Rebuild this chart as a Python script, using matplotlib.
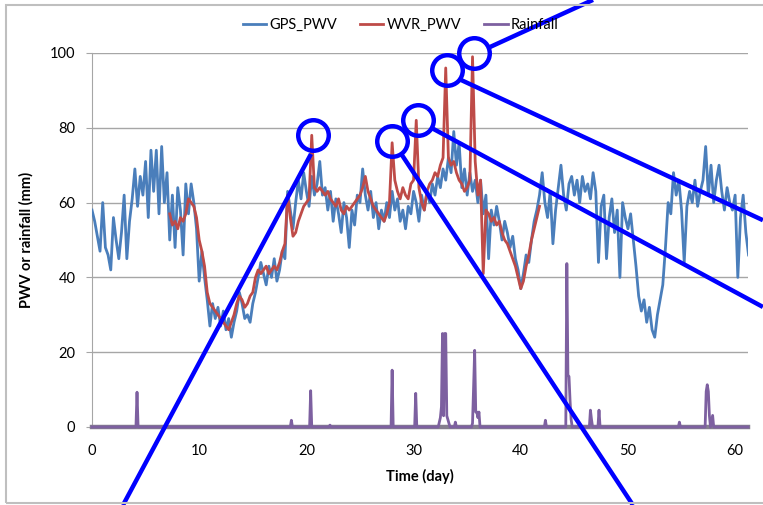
import numpy as np
import matplotlib.pyplot as plt

plt.rcParams['font.family'] = ['Lato', 'DejaVu Sans']

# GPS PWV (mm), sampled every 0.25 day starting at day 0
gps_pwv = [58, 55, 51, 47, 60, 48, 46, 42, 56, 50, 45, 52, 62,
           45, 55, 61, 69, 59, 67, 62, 71, 56, 74, 63, 74, 57, 75, 60, 68,
           50, 62, 48, 64, 58, 46, 65, 57, 65, 60, 53, 39, 47, 40, 34, 27,
           33, 29, 32, 27, 31, 26, 29, 24, 28, 31, 36, 33, 29, 30, 28, 33,
           36, 40, 44, 41, 38, 43, 40, 45, 39, 42, 47, 45, 63, 58, 53, 60,
           66, 61, 68, 63, 59, 67, 62, 65, 71, 62, 64, 58, 63, 55, 61, 57,
           52, 60, 56, 48, 58, 54, 62, 60, 69, 62, 58, 63, 56, 60, 53, 58,
           55, 60, 56, 63, 58, 61, 55, 58, 53, 59, 57, 63, 60, 55, 62, 58,
           63, 60, 65, 62, 67, 64, 69, 66, 72, 68, 79, 70, 76, 64, 69, 62,
           68, 63, 66, 60, 66, 57, 62, 45, 58, 54, 59, 55, 50, 55, 52, 48,
           51, 45, 42, 37, 41, 46, 44, 50, 55, 58, 62, 68, 60, 56, 63, 49,
           58, 64, 70, 62, 58, 65, 67, 62, 66, 60, 67, 63, 65, 61, 68, 63,
           44, 59, 62, 45, 56, 61, 52, 58, 40, 60, 56, 53, 57, 50, 43, 35,
           31, 34, 28, 32, 26, 24, 30, 34, 38, 48, 60, 57, 68, 62, 66, 58,
           44, 59, 63, 60, 66, 59, 63, 66, 75, 62, 70, 60, 66, 70, 63, 58,
           64, 60, 58, 62, 40, 56, 62, 52, 46]
gps_start = 0.0

# WVR PWV (mm), sampled every 0.25 day starting at day 7.25
wvr_pwv = [57, 54, 55, 53, 56, 55, 57, 61, 60, 59, 56, 50, 47, 43, 36,
           33, 32, 31, 30, 29, 28, 27, 26, 28, 30, 33, 35, 34, 32, 33, 35,
           36, 40, 42, 41, 42, 43, 41, 42, 43, 42, 44, 47, 49, 62, 56, 51,
           52, 55, 57, 59, 60, 61, 78, 64, 63, 64, 63, 62, 63, 61, 60, 59,
           61, 58, 57, 59, 58, 59, 60, 61, 62, 64, 67, 63, 61, 59, 58, 57,
           56, 55, 57, 60, 76, 66, 63, 61, 64, 62, 61, 65, 66, 82, 64, 60,
           58, 63, 65, 66, 68, 67, 70, 72, 96, 72, 70, 71, 68, 66, 65, 63,
           64, 66, 99, 71, 62, 66, 41, 58, 57, 55, 56, 54, 55, 52, 50, 49,
           47, 45, 43, 40, 37, 39, 43, 46, 50, 53, 56, 59]
wvr_start = 7.25
step = 0.25

# Rainfall (mm): day of reading and amount
rain_day = [0, 4.1, 4.2, 4.3, 18.5, 18.6, 18.7, 20.3, 20.4, 20.5,
            22.1, 22.2, 22.3, 27.9, 28.0, 28.1, 30.1, 30.2, 30.3,
            32.3, 32.5, 32.6, 32.7, 32.8, 32.9, 33.0, 33.1, 33.2, 33.4,
            33.8, 33.9, 34.0, 35.4, 35.5, 35.6, 35.7, 35.8, 35.9, 36.0, 36.1, 36.2,
            42.2, 42.3, 42.4, 44.2, 44.3, 44.4, 44.5, 44.6, 44.7, 44.8,
            46.4, 46.5, 46.6, 46.7, 47.2, 47.3, 47.4, 54.7, 54.8, 54.9,
            57.2, 57.3, 57.4, 57.5, 57.6, 57.7, 57.9, 58.0, 58.1, 61.2]
rain_mm = [0, 0, 9.3, 0, 0, 1.8, 0, 0, 9.7, 0,
           0, 0.5, 0, 0, 15.2, 0, 0, 9, 0,
           0, 2.5, 5.4, 25, 3, 25, 25, 3, 2, 0,
           0, 1.3, 0, 0, 1, 10.7, 20.5, 4, 4, 2.5, 4, 0,
           0, 1.8, 0, 0, 43.7, 13.9, 13.5, 7, 2, 0,
           0, 4.5, 2, 0, 0, 4.5, 0, 0, 1.3, 0,
           0, 9.5, 11.3, 9.5, 3, 0, 3.1, 0, 0, 0]

# blue callouts drawn over the chart: circle centre, line start, line end (data units)
callout_centres = [(20.6, 78.1), (28.0, 76.5), (30.4, 82.1), (33.1, 95.5), (35.6, 100.0)]
callout_lines = [((20.43, 73.0), (2.89, -20.9)),
                 ((28.92, 72.7), (50.47, -20.9)),
                 ((31.72, 79.9), (62.59, 32.1)),
                 ((34.42, 92.8), (62.59, 55.3)),
                 ((37.13, 101.6), (46.74, 114.2))]

gps_x = gps_start + np.arange(len(gps_pwv)) * step
wvr_x = wvr_start + np.arange(len(wvr_pwv)) * step

fig = plt.figure(figsize=(7.63, 5.05), dpi=100)
ax = fig.add_axes([92 / 763, 1 - 427 / 505, 656 / 763, 374 / 505])

ax.plot(gps_x, gps_pwv, color='#4A7EBB', lw=2.0, label='GPS_PWV', zorder=3)
ax.plot(wvr_x, wvr_pwv, color='#BE4B48', lw=2.0, label='WVR_PWV', zorder=4)
ax.plot(rain_day, rain_mm, color='#7D60A0', lw=2.0, label='Rainfall', zorder=5, clip_on=False)

ax.set_xlim(0, 61.2)
ax.set_ylim(0, 100)
ax.set_xticks(range(0, 61, 10))
ax.set_yticks(range(0, 101, 20))
ax.yaxis.grid(True, color='#A6A6A6', lw=1)
ax.set_axisbelow(True)
for s in ['top', 'right']:
    ax.spines[s].set_visible(False)
ax.spines['left'].set_color('#A6A6A6')
ax.spines['bottom'].set_color('#857F8E')
ax.spines['bottom'].set_linewidth(3.2)
ax.tick_params(axis='y', length=4, color='#A6A6A6', labelsize=10.5, pad=8)
ax.tick_params(axis='x', length=0, labelsize=10.5, pad=12)

ax.set_xlabel('Time (day)', fontsize=10.5, fontweight='bold', labelpad=8)
ax.set_ylabel('PWV or rainfall (mm)', fontsize=10.5, fontweight='bold', labelpad=12)

fig.legend(loc='center', bbox_to_anchor=(0.525, 0.95), ncol=3, frameon=False,
           fontsize=10.5, handlelength=1.6, handletextpad=0.2, columnspacing=1.6)

# outer chart border
fig.patches.append(plt.Rectangle((6 / 763, 2 / 505), 1.0, 498 / 505, transform=fig.transFigure,
                                 fill=False, edgecolor='#BFBFBF', lw=1.5))

# blue callout circles and lines
for cx, cy in callout_centres:
    ax.plot([cx], [cy], marker='o', ms=22, mfc='none', mec='#0000FF', mew=3.2,
            clip_on=False, zorder=10)
for (x0, y0), (x1, y1) in callout_lines:
    ax.plot([x0, x1], [y0, y1], color='#0000FF', lw=3.2, clip_on=False, zorder=10,
            solid_capstyle='butt')

fig.savefig('out.png', dpi=100)
